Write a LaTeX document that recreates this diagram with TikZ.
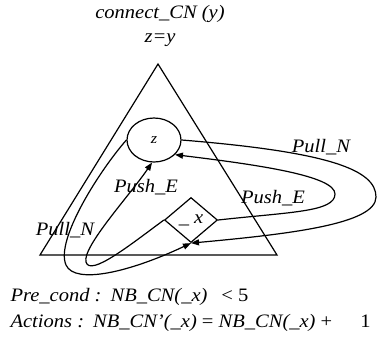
\documentclass[tikz,border=0pt]{standalone}
\usepackage{fontspec}
\setmainfont{Liberation Serif}[FakeStretch=1.08]
\usetikzlibrary{arrows.meta,positioning,shapes.geometric}

\begin{document}
\begin{tikzpicture}[x=1pt,y=-1pt,line width=1.2pt,
font=\fontsize{19}{22}\selectfont\itshape,
place/.style={draw,inner sep=0pt},
link/.style={-{Triangle[length=8pt,width=6pt]}},
lbl/.style={inner sep=0pt}]
\useasboundingbox (0,0) rectangle (377,338);
\node[lbl] (title) at (160,14) {connect\_CN (y)};
\node[lbl] (eq) at (160,40) {z=y};
\coordinate (top) at (158,64);
\coordinate (bl) at (40,255);
\coordinate (br) at (277,255);
\draw (top)--(bl)--(br)--cycle;
\node[place,ellipse,minimum width=54pt,minimum height=44pt,font=\fontsize{15}{17}\selectfont\itshape] (z) at (154,140) {z};
\node[place,diamond,minimum width=53pt,minimum height=45pt] (xn) at (191,220) {\_ x};
% Pull_N: z -> _x
\draw[link] (z.east) .. controls (330,152) and (376,170) .. (376,197) .. controls (376,224) and (290,234) .. (xn.south);
\draw[link] (z.west) .. controls (100,170) and (55,240) .. (66,265) .. controls (75,285) and (130,272) .. (xn.south);
% Push_E: _x -> z
\draw[link] (xn.east) .. controls (290,212) and (335,212) .. (335,194) .. controls (335,176) and (260,165) .. (z.-35);
\draw[link] (xn.west) .. controls (130,245) and (90,277) .. (86,262) .. controls (82,247) and (130,195) .. (z.-95);
\foreach \n/\u/\v/\t in {pr/321/147/Pull\_N,er/273/198/Push\_E,el/146/187/Push\_E,pl/65/230/Pull\_N}
  \node[lbl] (\n) at (\u,\v) {\t};
\node[lbl,anchor=west] (pre) at (10,297) {Pre\_cond :\hspace{9pt}NB\_CN(\_x)\hspace{14pt}{\upshape <} {\upshape 5}};
\node[lbl,anchor=west] (act) at (10,323) {Actions :\hspace{9pt}NB\_CN'(\_x) {\upshape =} NB\_CN(\_x) {\upshape +}\hspace{28pt}{\upshape 1}};
\end{tikzpicture}
\end{document}
